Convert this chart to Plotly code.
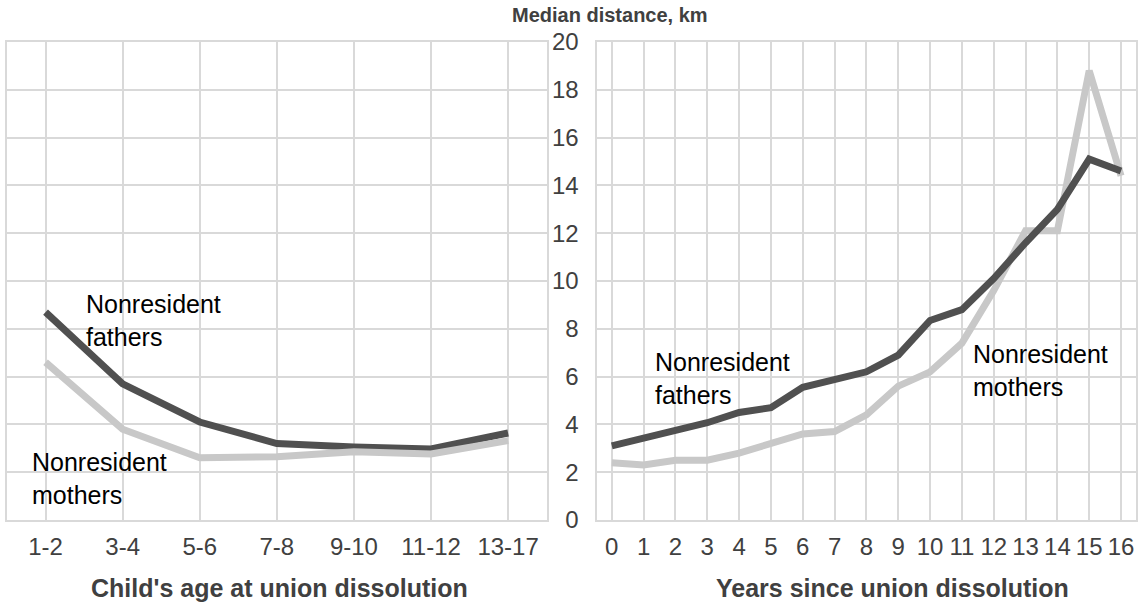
import plotly.graph_objects as go

age_groups = ["1-2", "3-4", "5-6", "7-8", "9-10", "11-12", "13-17"]
fathers_by_age = [8.7, 5.7, 4.1, 3.2, 3.05, 2.97, 3.64]
mothers_by_age = [6.6, 3.8, 2.6, 2.65, 2.86, 2.76, 3.32]

years_since = list(range(17))
fathers_by_years = [3.1, 3.4, 3.7, 4.07, 4.5, 4.7, 5.55, 5.9, 6.2, 6.9, 8.35,
                    8.8, 10.1, 11.6, 13.0, 15.1, 14.6]
mothers_by_years = [2.4, 2.3, 2.5, 2.5, 2.8, 3.2, 3.6, 3.7, 4.4, 5.6, 6.2,
                    7.4, 9.6, 12.1, 12.1, 18.8, 14.4]

dark = "#505050"
light = "#c8c8c8"
grid = "#d9d9d9"
text_col = "#404040"
font_family = "Liberation Sans, Arial, sans-serif"

fig = go.Figure()
fig.add_trace(go.Scatter(x=age_groups, y=fathers_by_age, mode="lines",
                         line=dict(color=dark, width=7), xaxis="x", yaxis="y"))
fig.add_trace(go.Scatter(x=age_groups, y=mothers_by_age, mode="lines",
                         line=dict(color=light, width=7), xaxis="x", yaxis="y"))
fig.add_trace(go.Scatter(x=years_since, y=mothers_by_years, mode="lines",
                         line=dict(color=light, width=7), xaxis="x2", yaxis="y2"))
fig.add_trace(go.Scatter(x=years_since, y=fathers_by_years, mode="lines",
                         line=dict(color=dark, width=7), xaxis="x2", yaxis="y2"))

axis_common = dict(showgrid=True, gridcolor=grid, gridwidth=2, showline=True,
                   linecolor=grid, linewidth=2, mirror=True, zeroline=False,
                   tickfont=dict(size=24, color=text_col, family=font_family),
                   ticks="outside", tickcolor="rgba(0,0,0,0)", fixedrange=True)

fig.update_layout(
    width=1140, height=602,
    margin=dict(l=4, r=2, t=42, b=82),
    paper_bgcolor="white", plot_bgcolor="white",
    showlegend=False,
    font=dict(family=font_family, color=text_col),
    xaxis=dict(domain=[0, 0.478], type="category", range=[-0.5, 6.5],
               ticklen=4, **axis_common),
    yaxis=dict(range=[0, 20], dtick=2, showticklabels=False, anchor="x",
               **axis_common),
    xaxis2=dict(domain=[0.523, 1], range=[-0.45, 16.47], dtick=1,
                ticklen=4, anchor="y2", **axis_common),
    yaxis2=dict(range=[0, 20], dtick=2, anchor="x2", ticklen=12,
                **axis_common),
)

# titles placed in pixel terms of the plot area (top 42, bottom 520)
titles = [
    ("<b>Median distance, km</b>", 610, 15, 20),
    ("<b>Child's age at union dissolution</b>", 278, 588, 25),
    ("<b>Years since union dissolution</b>", 893, 588, 25),
]
for txt, px_x, px_y, size in titles:
    fig.add_annotation(xref="paper", yref="paper", showarrow=False,
                       x=(px_x - 4) / 1134, y=(520 - px_y) / 478,
                       xanchor="center", yanchor="middle", text=txt,
                       font=dict(family=font_family, color=text_col, size=size))

labels = [
    ("Nonresident<br>fathers", "x", "y", 0.5, 8.35),
    ("Nonresident<br>mothers", "x", "y", -0.2, 1.75),
    ("Nonresident<br>fathers", "x2", "y2", 1.28, 5.9),
    ("Nonresident<br>mothers", "x2", "y2", 11.28, 6.25),
]
for txt, xr, yr, xv, yv in labels:
    fig.add_annotation(xref=xr, yref=yr, x=xv, y=yv, text=txt,
                       showarrow=False, xanchor="left", yanchor="middle",
                       align="left",
                       font=dict(family=font_family, size=25, color="black"))

fig.write_html("out.html", config={"displayModeBar": False},
               post_script="document.body.style.margin='0px';")
